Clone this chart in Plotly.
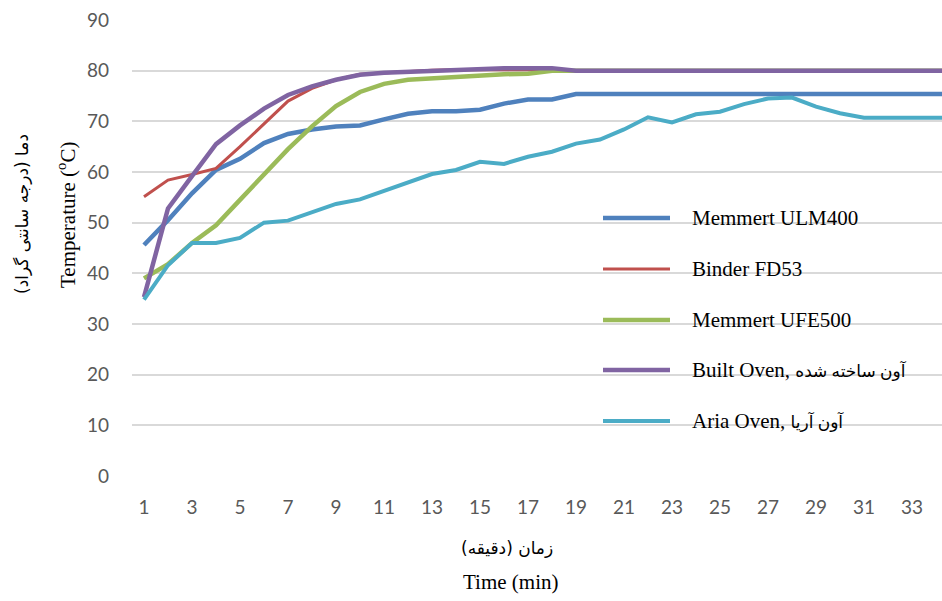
import plotly.graph_objects as go

minutes = list(range(1, 36))
tick_minutes = list(range(1, 34, 2))
y_ticks = list(range(0, 91, 10))

memmert_ulm400 = [45.6, 50.5, 55.8, 60.4, 62.6, 65.7, 67.5, 68.4, 69.0, 69.2, 70.4, 71.5, 72.0, 72.0, 72.3,
                  73.5, 74.3, 74.3, 75.4] + [75.4] * 16
binder_fd53 = [55.1, 58.4, 59.5, 60.7, 65.0, 69.4, 74.0, 76.5, 78.2, 79.3, 79.6, 79.8, 80.1, 80.2, 80.2,
               80.2, 80.2, 80.2, 80.0] + [80.0] * 16
memmert_ufe500 = [39.0, 41.8, 46.0, 49.5, 54.5, 59.5, 64.5, 69.0, 73.0, 75.8, 77.4, 78.2, 78.5, 78.9, 79.2,
                  79.3, 79.4, 80.0, 80.0] + [80.0] * 16
built_oven = [35.3, 52.8, 59.2, 65.5, 69.2, 72.5, 75.2, 76.9, 78.2, 79.2, 79.6, 79.8, 80.0, 80.2, 80.4,
              80.5, 80.5, 80.5, 80.0] + [80.0] * 16
aria_oven = [34.8, 41.6, 46.0, 46.0, 47.0, 50.0, 50.4, 52.0, 53.7, 54.6, 56.2, 58.0, 59.6, 60.4, 62.0,
             61.6, 63.0, 64.0, 65.6, 66.4, 68.4, 70.8, 69.8, 71.4, 71.9, 73.4, 74.5, 74.7, 72.9, 71.6,
             70.7, 70.7, 70.7, 70.7, 70.7]

series_names = ["Memmert ULM400", "Binder FD53", "Memmert UFE500",
                "Built Oven, آون ساخته شده", "Aria Oven, آون آریا"]
legend_labels = ["Memmert ULM400", "Binder FD53", "Memmert UFE500",
                 "Built Oven, <span style='font-size:17px'>آون ساخته شده</span>",
                 "Aria Oven, <span style='font-size:17px'>آون آریا</span>"]
series_values = [memmert_ulm400, binder_fd53, memmert_ufe500, built_oven, aria_oven]
colors = ["#4F81BD", "#C0504D", "#9BBB59", "#8064A2", "#4BACC6"]
widths = [4.5, 3, 4.5, 4.5, 4]

W, H = 942, 601
L, R, T, B = 132, 0, 20, 125
pw, ph = W - L - R, H - T - B


def px(x):
    return (x - L) / pw


def py(y):
    return (H - B - y) / ph


fig = go.Figure()
for name, vals, c, w in zip(series_names, series_values, colors, widths):
    fig.add_trace(go.Scatter(x=minutes, y=vals, mode="lines", name=name,
                             line=dict(color=c, width=w), showlegend=False))

serif = "Liberation Serif, Times New Roman, DejaVu Sans, serif"
arabic = "DejaVu Sans, sans-serif"
shapes = [dict(type="rect", xref="paper", yref="paper", x0=px(595), x1=px(942), y0=py(445), y1=py(195),
               fillcolor="white", line=dict(width=0), layer="between")]
annotations = []
legend_y = [218, 269, 320, 370, 421]
for lab, c, w, yy in zip(legend_labels, colors, widths, legend_y):
    shapes.append(dict(type="line", xref="paper", yref="paper", x0=px(603), x1=px(670),
                       y0=py(yy), y1=py(yy), line=dict(color=c, width=w), layer="above"))
    annotations.append(dict(x=px(690), y=py(yy), xref="paper", yref="paper", text=lab, showarrow=False,
                            xanchor="left", yanchor="middle",
                            font=dict(family=serif, size=21, color="black")))

annotations += [
    dict(x=px(66), y=py(215), xref="paper", yref="paper", text="Temperature (<sup>o</sup>C)",
         showarrow=False, textangle=-90, xanchor="center", yanchor="middle",
         font=dict(family=serif, size=21, color="black")),
    dict(x=px(22), y=py(214), xref="paper", yref="paper", text="دما (درجه سانتی گراد)",
         showarrow=False, textangle=-90, xanchor="center", yanchor="middle",
         font=dict(family=arabic, size=17, color="black")),
    dict(x=px(507), y=py(548), xref="paper", yref="paper", text="زمان (دقیقه)",
         showarrow=False, xanchor="center", yanchor="middle",
         font=dict(family=arabic, size=17, color="black")),
    dict(x=px(510), y=py(582), xref="paper", yref="paper", text="Time (min)",
         showarrow=False, xanchor="center", yanchor="middle",
         font=dict(family=serif, size=21, color="black")),
]

fig.update_layout(
    width=W, height=H,
    margin=dict(l=L, r=R, t=T, b=B),
    paper_bgcolor="white", plot_bgcolor="white",
    showlegend=False,
    shapes=shapes, annotations=annotations,
    xaxis=dict(range=[0.5, 34.25], tickvals=tick_minutes, ticktext=[str(t) for t in tick_minutes],
               showgrid=False, zeroline=False, showline=False, ticks="",
               tickfont=dict(family="Lato, Open Sans, sans-serif", size=19, color="#595959"),
               ticklabelstandoff=18),
    yaxis=dict(range=[0, 90], tickvals=y_ticks, showgrid=True, gridcolor="#D9D9D9", gridwidth=1.5,
               zeroline=False, showline=False, ticks="",
               tickfont=dict(family="Lato, Open Sans, sans-serif", size=19, color="#595959"),
               ticklabelstandoff=22),
)

fig.write_html("out.html", config={"displayModeBar": False},
               post_script="document.body.style.margin='0';document.body.style.overflow='hidden';")
